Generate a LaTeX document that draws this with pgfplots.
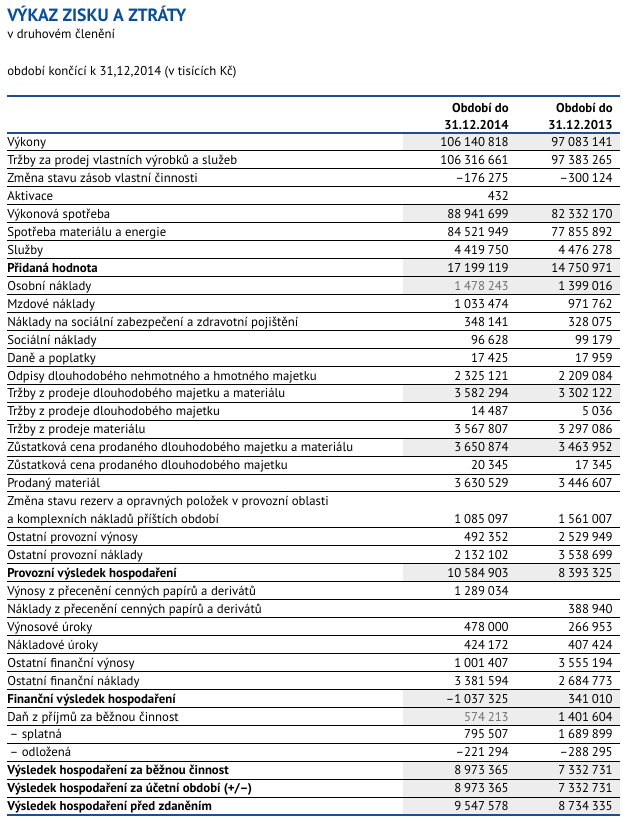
\documentclass[border=0pt]{standalone}
\usepackage{pgfplots}
\pgfplotsset{compat=1.18}
\usepackage{pgfplotstable}
\usepackage{fontspec}
\setmainfont{PT Sans}
\definecolor{cblue}{HTML}{0B4F93}
\definecolor{cline}{HTML}{1D4F8A}
\definecolor{gfill}{HTML}{EDEDED}
\definecolor{gtext}{HTML}{707070}

\newcount\fA \newcount\fB \newcount\fC \newcount\fT
\def\fsep{\hspace{0.22em}}
\def\threedig#1{\ifnum#1<100 0\fi\ifnum#1<10 0\fi\number#1}
\def\fmt#1{\fA=#1\relax
 \ifnum\fA<0 –\fA=-\fA\fi
 \fB=\fA \divide\fB by 1000
 \fT=\fB \multiply\fT by 1000 \advance\fA by -\fT
 \fC=\fB \divide\fC by 1000
 \fT=\fC \multiply\fT by 1000 \advance\fB by -\fT
 \ifnum\fC>0 \number\fC\fsep\threedig\fB\fsep\threedig\fA
 \else\ifnum\fB>0 \number\fB\fsep\threedig\fA\else\number\fA\fi\fi}

\pgfplotstableread[col sep=semicolon]{
k;t
1;Výkony
2;Tržby za prodej vlastních výrobků a služeb
3;Změna stavu zásob vlastní činnosti
4;Aktivace
5;Výkonová spotřeba
6;Spotřeba materiálu a energie
7;Služby
8;\textbf{Přidaná hodnota}
9;Osobní náklady
10;Mzdové náklady
11;Náklady na sociální zabezpečení a zdravotní pojištění
12;Sociální náklady
13;Daně a poplatky
14;Odpisy dlouhodobého nehmotného a hmotného majetku
15;Tržby z prodeje dlouhodobého majetku a materiálu
16;Tržby z prodeje dlouhodobého majetku
17;Tržby z prodeje materiálu
18;Zůstatková cena prodaného dlouhodobého majetku a materiálu
19;Zůstatková cena prodaného dlouhodobého majetku
20;Prodaný materiál
21;Změna stavu rezerv a opravných položek v provozní oblasti
22;a komplexních nákladů příštích období
23;Ostatní provozní výnosy
24;Ostatní provozní náklady
25;\textbf{Provozní výsledek hospodaření}
26;Výnosy z přecenění cenných papírů a derivátů
27;Náklady z přecenění cenných papírů a derivátů
28;Výnosové úroky
29;Nákladové úroky
30;Ostatní finanční výnosy
31;Ostatní finanční náklady
32;\textbf{Finanční výsledek hospodaření}
33;Daň z příjmů za běžnou činnost
34;\hspace{2pt}– splatná
35;\hspace{2pt}– odložená
36;\textbf{Výsledek hospodaření za běžnou činnost}
37;\textbf{Výsledek hospodaření za účetní období (+/–)}
38;\textbf{Výsledek hospodaření před zdaněním}
}\labels

\pgfplotstableread{
k v
1 106140818
2 106316661
3 -176275
4 432
5 88941699
6 84521949
7 4419750
8 17199119
10 1033474
11 348141
12 96628
13 17425
14 2325121
15 3582294
16 14487
17 3567807
18 3650874
19 20345
20 3630529
22 1085097
23 492352
24 2132102
25 10584903
26 1289034
28 478000
29 424172
30 1001407
31 3381594
32 -1037325
34 795507
35 -221294
36 8973365
37 8973365
38 9547578
}\yrA

\pgfplotstableread{
k v
9 1478243
33 574213
}\yrAgrey

\pgfplotstableread{
k v
1 97083141
2 97383265
3 -300124
5 82332170
6 77855892
7 4476278
8 14750971
9 1399016
10 971762
11 328075
12 99179
13 17959
14 2209084
15 3302122
16 5036
17 3297086
18 3463952
19 17345
20 3446607
22 1561007
23 2529949
24 3538699
25 8393325
27 388940
28 266953
29 407424
30 3555194
31 2684773
32 341010
33 1401604
34 1689899
35 -288295
36 7332731
37 7332731
38 8734335
}\yrB

\pgfplotstableread{
x y
403 0
620 0
620 1
403 1
nan nan
403 4
620 4
620 5
403 5
nan nan
403 7
620 7
620 9
403 9
nan nan
403 14
620 14
620 15
403 15
nan nan
403 17
620 17
620 18
403 18
nan nan
403 24
620 24
620 25
403 25
nan nan
403 31
620 31
620 33
403 33
nan nan
403 35
620 35
620 38
403 38
}\shade

\pgfplotstableread{
x y
7 1
620 1
nan nan
7 2
620 2
nan nan
7 3
620 3
nan nan
7 4
620 4
nan nan
7 5
620 5
nan nan
7 6
620 6
nan nan
7 7
620 7
nan nan
7 8
620 8
nan nan
7 9
620 9
nan nan
7 10
620 10
nan nan
7 11
620 11
nan nan
7 12
620 12
nan nan
7 13
620 13
nan nan
7 14
620 14
nan nan
7 15
620 15
nan nan
7 16
620 16
nan nan
7 17
620 17
nan nan
7 18
620 18
nan nan
7 19
620 19
nan nan
7 20
620 20
nan nan
7 22
620 22
nan nan
7 23
620 23
nan nan
7 24
620 24
nan nan
7 25
620 25
nan nan
7 26
620 26
nan nan
7 27
620 27
nan nan
7 28
620 28
nan nan
7 29
620 29
nan nan
7 30
620 30
nan nan
7 31
620 31
nan nan
7 32
620 32
nan nan
7 33
620 33
nan nan
7 34
620 34
nan nan
7 35
620 35
nan nan
7 36
620 36
nan nan
7 37
620 37
}\rules

\begin{document}
\fontsize{9.6pt}{11pt}\selectfont
\begin{tikzpicture}
\begin{axis}[
  width=459.75pt, height=616.5pt, scale only axis,
  xmin=7, xmax=620, ymin=-7.411, ymax=38.39, y dir=reverse,
  hide axis, clip=false,
]
\addplot[fill=gfill, draw=none, unbounded coords=jump] table[x=x,y=y] {\shade};
\addplot[black, line width=0.7pt, unbounded coords=jump] table[x=x,y=y] {\rules};
\addplot[cline, line width=2pt] coordinates {(7,-2.06) (620,-2.06)};
\addplot[cline, line width=1.5pt] coordinates {(7,0) (620,0)};
\addplot[cline, line width=1.6pt] coordinates {(7,38) (620,38)};

\addplot[draw=none, mark=none, point meta=explicit symbolic,
  nodes near coords={\pgfplotspointmeta},
  every node near coord/.append style={anchor=base west, inner sep=0pt, yshift=3.2pt, text=black}]
  table[x expr=7, y=k, meta=t] {\labels};

\addplot[draw=none, mark=none, point meta=explicit symbolic,
  nodes near coords={\fmt{\pgfplotspointmeta}},
  every node near coord/.append style={anchor=base east, inner sep=0pt, yshift=3.2pt, text=black}]
  table[x expr=509, y=k, meta=v] {\yrA};

\addplot[draw=none, mark=none, point meta=explicit symbolic,
  nodes near coords={\fmt{\pgfplotspointmeta}},
  every node near coord/.append style={anchor=base east, inner sep=0pt, yshift=3.2pt, text=gtext}]
  table[x expr=509, y=k, meta=v] {\yrAgrey};

\addplot[draw=none, mark=none, point meta=explicit symbolic,
  nodes near coords={\fmt{\pgfplotspointmeta}},
  every node near coord/.append style={anchor=base east, inner sep=0pt, yshift=3.2pt, text=black}]
  table[x expr=613, y=k, meta=v] {\yrB};

\node[anchor=base west, inner sep=0pt, text=cblue, font=\fontsize{13.3pt}{15pt}\selectfont\bfseries] at (axis cs:7,-6.24) {VÝKAZ ZISKU A ZTRÁTY};
\node[anchor=base west, inner sep=0pt] at (axis cs:7,-5.24) {v druhovém členění};
\node[anchor=base west, inner sep=0pt] at (axis cs:7,-3.23) {období končící k 31,12,2014 (v tisících Kč)};
\node[anchor=base east, inner sep=0pt, font=\bfseries] at (axis cs:509,-1.17) {Období do};
\node[anchor=base east, inner sep=0pt, font=\bfseries] at (axis cs:509,-0.2) {31.12.2014};
\node[anchor=base east, inner sep=0pt, font=\bfseries] at (axis cs:613,-1.17) {Období do};
\node[anchor=base east, inner sep=0pt, font=\bfseries] at (axis cs:613,-0.2) {31.12.2013};
\end{axis}
\path ([xshift=-5.25pt]current axis.south west) rectangle ([xshift=5.25pt]current axis.north east);
\end{tikzpicture}
\end{document}
